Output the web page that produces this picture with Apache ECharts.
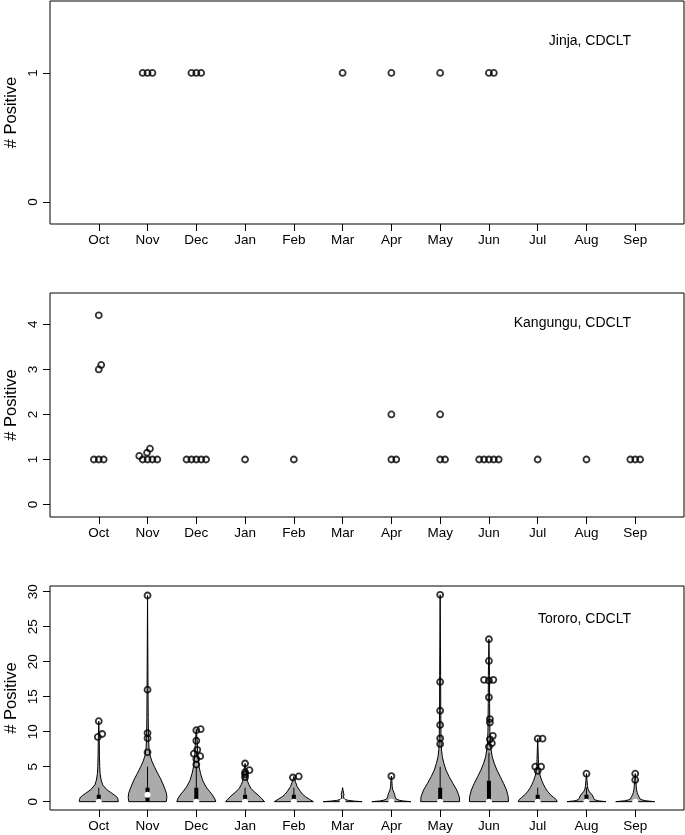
<!DOCTYPE html>
<html><head><meta charset="utf-8">
<script src="https://cdn.jsdelivr.net/npm/echarts@6.0.0/dist/echarts.min.js"></script>
<style>html,body{margin:0;padding:0;background:#fff}#c{width:685px;height:835px}</style>
</head><body><div id="c"></div><script>
const FONT = "'Liberation Sans', Arial, Helvetica, sans-serif";
const months = ['Oct','Nov','Dec','Jan','Feb','Mar','Apr','May','Jun','Jul','Aug','Sep'];
const monthPos = [1,2,3,4,5,6,7,8,9,10,11,12];
const panelTitles = ['Jinja, CDCLT','Kangungu, CDCLT','Tororo, CDCLT'];
const ticksJinja = [0,1];
const ticksKangungu = [0,1,2,3,4];
const ticksTororo = [0,5,10,15,20,25,30];

// Jinja points [month position (with stack offset), # positive]
const jinjaPoints = [[1.9,1],[2.0,1],[2.1,1],[2.9,1],[3.0,1],[3.1,1],[6,1],[7,1],[8,1],[9.0,1],[9.1,1]];

// Kangungu points
const kangunguPoints = [
  [0.9,1],[1.0,1],[1.1,1],[1.0,3.0],[1.05,3.1],[1.0,4.2],
  [1.9,1],[2.0,1],[2.1,1],[2.2,1],[1.83,1.08],[1.99,1.15],[2.05,1.24],
  [2.8,1],[2.9,1],[3.0,1],[3.1,1],[3.2,1],
  [4,1],[5,1],
  [7,2],[7,1],[7.1,1],
  [8,2],[8,1],[8.1,1],
  [8.8,1],[8.9,1],[9,1],[9.1,1],[9.2,1],
  [10,1],[11,1],[11.9,1],[12,1],[12.1,1]
];

// Tororo outlying points
const tororoPoints = [
  [1,11.5],[0.98,9.25],[1.07,9.67],
  [2,29.45],[2,16],[2,9.8],[2,9.05],[2,7.05],
  [3,10.2],[3.09,10.35],[3,8.7],[3.02,7.4],[2.95,6.85],[3.08,6.5],[3,6.1],[3,5.3],
  [4,5.45],[4.09,4.5],[4,4.2],[4,3.9],[4,3.5],
  [4.98,3.45],[5.1,3.6],
  [7,3.65],
  [8,29.55],[8,17.1],[8,13],[8,10.95],[8,9.05],[8,8.25],
  [9,23.2],[9,20.1],[8.9,17.4],[9,17.3],[9.09,17.4],[9,14.9],[9.02,11.8],[9.02,11.3],[9.08,9.4],[9.02,8.9],[9.06,8.35],[9,7.86],
  [10,9.0],[10.1,9.0],[9.95,5.0],[10.07,5.0],[10,4.4],
  [11,4.0],
  [12,4.0],[12,3.1]
];

// Tororo violin density profiles: [value, relative half-width]
const violinProfiles = [
  [[0,1.0],[0.3,0.99],[0.6,0.95],[0.9,0.82],[1.2,0.67],[1.7,0.42],[2.4,0.2],[3.1,0.12],[4,0.07],[5,0.05],[6.5,0.035],[9,0.025],[11.5,0]],
  [[0,0.96],[0.6,0.99],[1.2,0.97],[2.1,0.85],[3.1,0.7],[4.05,0.52],[5,0.35],[5.8,0.22],[6.7,0.12],[7.5,0.08],[9,0.05],[12,0.035],[16,0.025],[29.45,0]],
  [[0,1.0],[0.4,0.95],[0.95,0.83],[1.5,0.67],[2.1,0.5],[3,0.33],[4,0.22],[5,0.14],[6,0.1],[7,0.07],[8.5,0.05],[10.35,0]],
  [[0,1.0],[0.5,0.83],[0.95,0.67],[1.4,0.47],[1.9,0.3],[2.4,0.2],[2.9,0.13],[3.6,0.08],[4.5,0.05],[5.45,0]],
  [[0,1.0],[0.35,0.8],[0.7,0.6],[1.05,0.45],[1.45,0.34],[2.15,0.17],[2.85,0.08],[3.6,0]],
  [[0,1.0],[0.08,0.6],[0.18,0.3],[0.3,0.13],[0.5,0.06],[0.8,0.05],[1.0,0.07],[1.25,0.05],[1.6,0.025],[2,0]],
  [[0,1.0],[0.1,0.6],[0.22,0.38],[0.4,0.24],[0.7,0.19],[1.0,0.17],[1.3,0.13],[1.7,0.07],[2.2,0.04],[3,0.025],[3.65,0]],
  [[0,1.0],[0.7,0.98],[1.67,0.85],[2.62,0.65],[3.57,0.46],[4.52,0.3],[5.48,0.19],[6.43,0.11],[7.4,0.07],[9,0.045],[13,0.03],[18,0.025],[29.55,0]],
  [[0,1.0],[0.7,0.99],[1.67,0.9],[2.62,0.75],[3.57,0.58],[4.52,0.41],[5.5,0.27],[6.4,0.17],[7.4,0.11],[8.3,0.075],[10,0.05],[14,0.035],[18,0.03],[23.2,0]],
  [[0,1.0],[0.3,0.95],[0.6,0.82],[1.0,0.65],[1.5,0.5],[2.0,0.38],[2.5,0.29],[3.0,0.21],[3.5,0.15],[4,0.1],[4.5,0.07],[5,0.05],[6,0.035],[9,0]],
  [[0,1.0],[0.12,0.6],[0.28,0.42],[0.5,0.37],[0.8,0.33],[1.1,0.25],[1.4,0.15],[1.8,0.08],[2.3,0.05],[3,0.03],[4,0]],
  [[0,1.0],[0.12,0.55],[0.25,0.35],[0.4,0.24],[0.7,0.19],[1.0,0.14],[1.3,0.1],[1.7,0.07],[2.2,0.05],[3,0.03],[4,0]]
];
const boxQ1 = [0,0,0,0,0,0,0,0,0,0,0,0];
const boxQ3 = [1,2,2,1,1,0,0,2,3,1,1,0];
const boxMedian = [0,1,0,0,0,0,0,0,0,0,0,0];
const whiskerTop = [2,5,5,2,2,0,0,5,7,2,2,0];

const grids = [
  {left:50, right:1, top:1, height:223},
  {left:50, right:1, top:293, height:224},
  {left:50, right:1, top:586, height:224}
];
const yRanges = [[-0.171,1.558],[-0.276,4.696],[-1.19,30.81]];
const yTicks = [ticksJinja, ticksKangungu, ticksTororo];

function xAx(gi){
  return {type:'value', gridIndex:gi, min:0, max:13, interval:1,
    axisLine:{show:false, onZero:false}, splitLine:{show:false},
    axisTick:{show:true, length:7, lineStyle:{color:'#000', width:1}, customValues:monthPos},
    axisLabel:{show:true, customValues:monthPos, formatter:v=>months[Math.round(v)-1], color:'#000', fontSize:13.5, margin:9, fontFamily:FONT}};
}
function yAx(gi){
  return {type:'value', gridIndex:gi, min:yRanges[gi][0], max:yRanges[gi][1],
    name:'# Positive', nameLocation:'middle', nameGap:30, nameRotate:90, nameMoveOverlap:false,
    nameTextStyle:{fontSize:16.5, color:'#000', fontFamily:FONT},
    axisLine:{show:false, onZero:false}, splitLine:{show:false},
    axisTick:{show:true, length:7, lineStyle:{color:'#000', width:1}, customValues:yTicks[gi]},
    axisLabel:{show:true, customValues:yTicks[gi], rotate:90, color:'#000', fontSize:13.5, margin:10, fontFamily:FONT}};
}

const pointStyle = {color:'rgba(0,0,0,0)', borderColor:'#000', borderWidth:1.8};

const option = {
  animation:false,
  backgroundColor:'#fff',
  grid: grids.map(g=>Object.assign({show:true, borderColor:'#000', borderWidth:1, backgroundColor:'rgba(0,0,0,0)', containLabel:false, outerBoundsMode:'none'}, g)),
  xAxis:[xAx(0),xAx(1),xAx(2)],
  yAxis:[yAx(0),yAx(1),yAx(2)],
  graphic: panelTitles.map((t,i)=>({type:'text', x:631, y:[41,323,619][i],
    style:{text:t, fontSize:14, fontFamily:FONT, fill:'#000', align:'right', verticalAlign:'middle'}})),
  series:[
    {type:'scatter', xAxisIndex:0, yAxisIndex:0, data:jinjaPoints, symbol:'circle', symbolSize:6, itemStyle:pointStyle, silent:true},
    {type:'scatter', xAxisIndex:1, yAxisIndex:1, data:kangunguPoints, symbol:'circle', symbolSize:6, itemStyle:pointStyle, silent:true},
    {type:'custom', xAxisIndex:2, yAxisIndex:2, data:monthPos.map(v=>[v,0]), silent:true, clip:false,
      renderItem:function(params, api){
        const i = params.dataIndex;
        const xc = api.value(0);
        const prof = violinProfiles[i];
        const right = [], left = [];
        prof.forEach(([y,w])=>{
          const hw = w*0.4;
          right.push(api.coord([xc+hw,y]));
          left.push(api.coord([xc-hw,y]));
        });
        const pts = right.concat(left.reverse());
        const children = [{type:'polygon', shape:{points:pts}, style:{fill:'#ababab', stroke:'#000', lineWidth:1}}];
        const cq1 = api.coord([xc, boxQ1[i]]);
        const cq3 = api.coord([xc, boxQ3[i]]);
        if (whiskerTop[i] > boxQ3[i]) {
          const cw = api.coord([xc, whiskerTop[i]]);
          children.push({type:'line', shape:{x1:cq3[0], y1:cq3[1], x2:cw[0], y2:cw[1]}, style:{stroke:'#000', lineWidth:1}});
        }
        if (boxQ3[i] > boxQ1[i]) {
          children.push({type:'rect', shape:{x:cq1[0]-2, y:cq3[1], width:4, height:cq1[1]-cq3[1]}, style:{fill:'#000'}});
        }
        const cm = api.coord([xc, boxMedian[i]]);
        children.push({type:'circle', shape:{cx:cm[0], cy:cm[1], r:3}, style:{fill:'#fff'}});
        return {type:'group', children};
      }
    },
    {type:'scatter', xAxisIndex:2, yAxisIndex:2, data:tororoPoints, symbol:'circle', symbolSize:6, itemStyle:{color:'rgba(0,0,0,0)', borderColor:'#000', borderWidth:1.8}, silent:true}
  ]
};
const chart = echarts.init(document.getElementById('c'));
chart.setOption(option);
</script></body></html>
